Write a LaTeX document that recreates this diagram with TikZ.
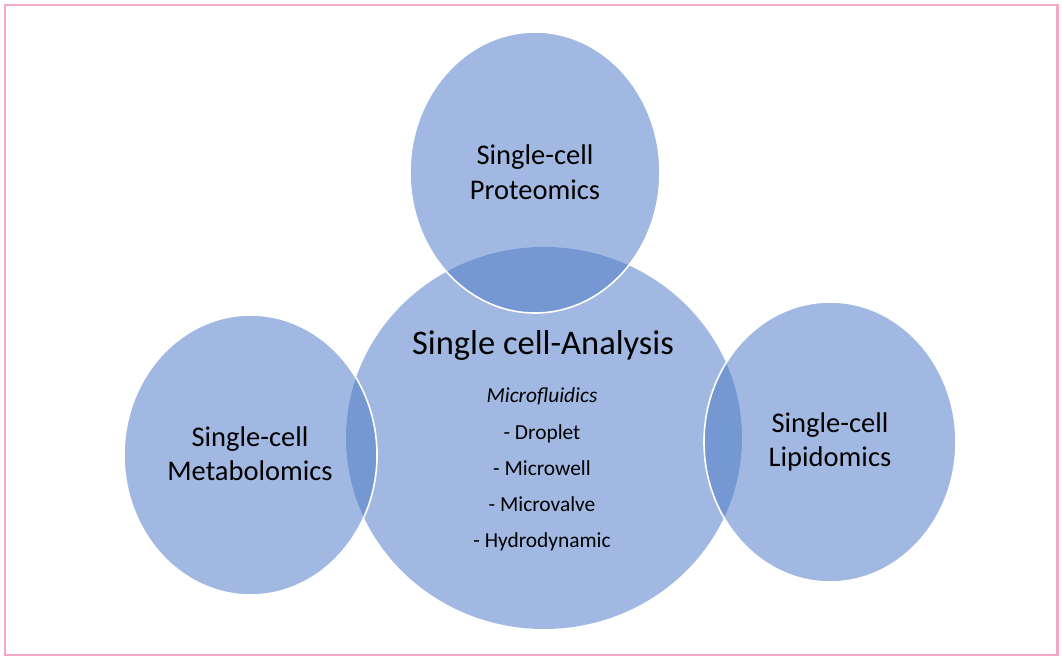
\documentclass[tikz,border=0pt]{standalone}
\usepackage{fontspec}
\setmainfont{Carlito}
\definecolor{lightblue}{HTML}{A1B9E2}
\definecolor{darkblue}{HTML}{7597D2}
\definecolor{framepink}{HTML}{F3A8CA}
\begin{document}
\begin{tikzpicture}[x=1pt,y=-1pt,
  bubble/.style={fill=lightblue},
  lens/.style={fill=darkblue},
  rim/.style={draw=white,line width=1.6pt},
  label/.style={align=center,font=\fontsize{28.5}{34.5}\selectfont,text=black,inner sep=0pt},
  title/.style={align=center,font=\fontsize{34.5}{40}\selectfont,text=black,inner sep=0pt},
  listing/.style={align=center,font=\fontsize{21.4}{36.2}\selectfont,text=black,inner sep=0pt}]
\useasboundingbox (0,0) rectangle (1062,664);
\draw[framepink,line width=2.6pt] (5,5) rectangle (1057.5,655);
% centres
\coordinate (cC) at (544,438);
\coordinate (cT) at (535,172.5);
\coordinate (cL) at (250.5,455);
\coordinate (cR) at (830,442);
% fills
\fill[bubble] (cC) ellipse [x radius=198pt, y radius=191pt];
\fill[bubble] (cT) ellipse [x radius=125pt, y radius=140.5pt];
\fill[bubble] (cL) ellipse [x radius=126.5pt, y radius=140pt];
\fill[bubble] (cR) ellipse [x radius=126pt, y radius=140pt];
% overlaps
\begin{scope}
  \clip (cC) ellipse [x radius=198pt, y radius=191pt];
  \fill[lens] (cT) ellipse [x radius=125pt, y radius=140.5pt];
  \fill[lens] (cL) ellipse [x radius=126.5pt, y radius=140pt];
  \fill[lens] (cR) ellipse [x radius=126pt, y radius=140pt];
\end{scope}
% white rims
\draw[rim] (cT) ellipse [x radius=125pt, y radius=140.5pt];
\draw[rim] (cL) ellipse [x radius=126.5pt, y radius=140pt];
\draw[rim] (cR) ellipse [x radius=126pt, y radius=140pt];
% texts
\node[label] (tT) at (535,172) {Single-cell\\Proteomics};
\node[label] (tL) at (250,453.5) {Single-cell\\Metabolomics};
\node[label] (tR) at (830,442) {Single-cell\\Lipidomics};
\node[title] (tC) at (543,345) {Single cell-Analysis};
\node[listing] (tM) at (542,469.5) {\itshape Microfluidics\\- Droplet\\- Microwell\\- Microvalve\\- Hydrodynamic};
\end{tikzpicture}
\end{document}
